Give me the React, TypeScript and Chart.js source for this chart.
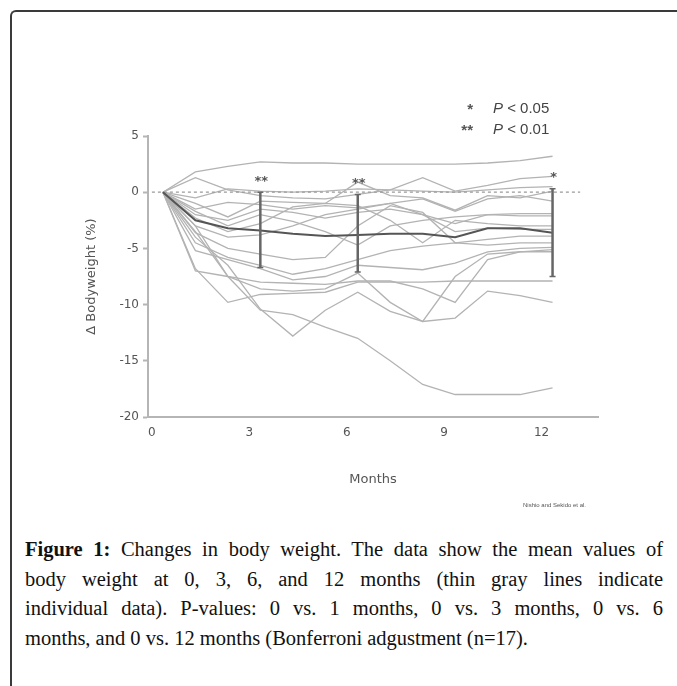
import React, { useEffect, useRef } from "react";
import { Chart, registerables } from "chart.js";
Chart.register(...registerables);

// ---- data ----
const months = [0, 1, 2, 3, 4, 5, 6, 7, 8, 9, 10, 11, 12];
const xTickValues = [0, 3, 6, 9, 12];
const yTickValues = [5, 0, -5, -10, -15, -20];

const subject01 = [0, 1.8, 2.3, 2.7, 2.6, 2.6, 2.5, 2.5, 2.5, 2.5, 2.6, 2.8, 3.2];
const subject02 = [0, 1.3, 0.2, -0.3, -0.5, -0.6, -0.2, 0.2, 1.3, 0.1, 0.6, 1.2, 1.4];
const subject03 = [0, -0.5, 0.3, 0.1, 0.0, 0.1, 0.3, 0.2, 0.1, 0.0, 0.2, 0.4, 0.5];
const subject04 = [0, -1.0, -2.2, -0.8, -0.9, -1.0, 0.9, -0.3, -0.5, -1.6, -0.3, -0.5, 0.1];
const subject05 = [0, -1.5, -0.9, -1.1, -1.5, -1.2, -1.4, -1.0, -0.6, -1.7, -0.6, -0.3, -0.8];
const subject06 = [0, -2.0, -2.5, -1.5, -1.8, -2.3, -1.8, -1.5, -2.0, -2.8, -2.0, -1.9, -1.9];
const subject07 = [0, -1.7, -3.0, -2.0, -2.6, -3.5, -4.7, -3.0, -2.5, -2.2, -2.0, -2.1, -2.1];
const subject08 = [0, -2.3, -3.5, -2.8, -1.3, -1.0, -1.2, -2.5, -4.5, -2.5, -2.8, -3.0, -3.0];
const subject09 = [0, -3.0, -4.0, -3.8, -3.0, -2.0, -1.5, -1.0, -2.0, -3.5, -3.2, -3.3, -3.3];
const subject10 = [0, -3.6, -5.0, -5.5, -6.0, -5.8, -3.0, -1.2, -1.8, -4.5, -4.2, -3.9, -3.9];
const subject11 = [0, -4.5, -5.8, -6.5, -7.3, -6.8, -6.0, -5.2, -4.8, -4.5, -4.7, -4.5, -4.5];
const subject12 = [0, -5.2, -6.0, -6.8, -7.8, -7.5, -6.5, -6.7, -6.9, -6.3, -5.3, -5.0, -4.9];
const subject13 = [0, -3.5, -7.5, -8.0, -8.1, -8.2, -7.9, -7.9, -8.6, -9.8, -6.0, -5.3, -5.1];
const subject14 = [0, -7.0, -7.5, -8.6, -8.8, -8.6, -7.2, -9.8, -11.5, -11.2, -8.8, -9.2, -9.8];
const subject15 = [0, -6.8, -9.8, -9.1, -9.0, -8.9, -8.0, -8.0, -8.0, -7.9, -7.9, -7.9, -7.9];
const subject16 = [0, -4.0, -6.5, -10.4, -12.8, -10.5, -8.9, -10.6, -11.5, -7.5, -5.5, -5.3, -5.3];
const subject17 = [0, -3.0, -7.5, -10.5, -10.9, -12.0, -13.0, -15.0, -17.1, -18.0, -18.0, -18.0, -17.4];
const subjects = [
  subject01, subject02, subject03, subject04, subject05, subject06, subject07, subject08, subject09,
  subject10, subject11, subject12, subject13, subject14, subject15, subject16, subject17,
];

const meanChange = [0, -2.5, -3.2, -3.4, -3.7, -3.9, -3.8, -3.7, -3.7, -4.0, -3.2, -3.2, -3.6];

const errorMonths = [3, 6, 12];
const errorUpper = [0, -0.2, 0.3];
const errorLower = [-6.7, -7.1, -7.5];

const sigMonths = [3, 6, 12];
const sigMarks = ["**", "**", "*"];
const sigLevel = [1.15, 0.95, 1.5];

const refValue = 0;
const refStart = -0.34;
const refEnd = 12.85;

const captionLabel = "Figure 1:";
const captionLines = [
  " Changes in body weight. The data show the mean values of",
  "body weight at 0, 3, 6, and 12 months (thin gray lines indicate",
  "individual data). P-values: 0 vs. 1 months, 0 vs. 3 months, 0 vs. 6",
  "months, and 0 vs. 12 months (Bonferroni adgustment (n=17).",
];

const toPoints = (vals: number[]) => months.map((m, i) => ({ x: m, y: vals[i] }));

const annotationPlugin = {
  id: "annotations",
  afterDatasetsDraw(chart: any) {
    const { ctx, scales } = chart;
    const xs = scales.x;
    const ys = scales.y;
    ctx.save();
    ctx.strokeStyle = "#666";
    errorMonths.forEach((m, i) => {
      const px = xs.getPixelForValue(m);
      const top = ys.getPixelForValue(errorUpper[i]);
      const bot = ys.getPixelForValue(errorLower[i]);
      ctx.lineWidth = 2.5;
      ctx.beginPath();
      ctx.moveTo(px, top);
      ctx.lineTo(px, bot);
      ctx.stroke();
      ctx.lineWidth = 1.5;
      ctx.beginPath();
      ctx.moveTo(px - 3, top);
      ctx.lineTo(px + 3, top);
      ctx.moveTo(px - 3, bot);
      ctx.lineTo(px + 3, bot);
      ctx.stroke();
    });
    ctx.fillStyle = "#555";
    ctx.font = 'bold 13px "DejaVu Sans"';
    ctx.textAlign = "center";
    ctx.textBaseline = "middle";
    sigMonths.forEach((m, i) => {
      ctx.fillText(sigMarks[i], xs.getPixelForValue(m) + 1, ys.getPixelForValue(sigLevel[i]) + 2);
    });
    ctx.restore();
  },
};

function ChartView() {
  const ref = useRef<HTMLCanvasElement | null>(null);
  useEffect(() => {
    if (!ref.current) return;
    const datasets: any[] = [];
    datasets.push({
      label: "Mean",
      data: toPoints(meanChange),
      borderColor: "#555",
      borderWidth: 2,
      pointRadius: 0,
      tension: 0,
    });
    datasets.push({
      label: "Reference",
      data: [
        { x: refStart, y: refValue },
        { x: refEnd, y: refValue },
      ],
      borderColor: "#9a9a9a",
      borderWidth: 1.3,
      borderDash: [3, 3],
      pointRadius: 0,
    });
    subjects.forEach((s, i) => {
      datasets.push({
        label: "Subject " + (i + 1),
        data: toPoints(s),
        borderColor: "#b3b3b3",
        borderWidth: 1.3,
        pointRadius: 0,
        tension: 0,
      });
    });
    const chart = new Chart(ref.current, {
      type: "line",
      data: { datasets },
      plugins: [annotationPlugin],
      options: {
        animation: false,
        responsive: false,
        events: [],
        layout: { padding: { top: 136, right: 79, left: 0, bottom: 0 } },
        plugins: { legend: { display: false }, tooltip: { enabled: false } },
        scales: {
          x: {
            type: "linear",
            min: -0.46,
            max: 13.4,
            afterFit: (s: any) => {
              s.height = 103;
            },
            afterBuildTicks: (s: any) => {
              s.ticks = xTickValues.map((v) => ({ value: v }));
            },
            grid: { display: false, drawTicks: false },
            border: { color: "#b5b5b5", width: 2 },
            ticks: {
              padding: 9,
              labelOffset: -11,
              color: "#555",
              font: { family: "DejaVu Sans", size: 12 },
              callback: (v: any) => String(v),
            },
            title: {
              display: true,
              text: "Months",
              color: "#555",
              font: { family: "DejaVu Sans", size: 13 },
              padding: { top: 0, bottom: 33 },
            },
          },
          y: {
            type: "linear",
            min: -20,
            max: 5,
            afterFit: (s: any) => {
              s.width = 148;
            },
            afterBuildTicks: (s: any) => {
              s.ticks = yTickValues.map((v) => ({ value: v }));
            },
            grid: {
              drawOnChartArea: false,
              drawTicks: true,
              tickLength: 5,
              tickColor: "#b5b5b5",
              tickWidth: 2,
            },
            border: { color: "#b5b5b5", width: 2 },
            ticks: {
              padding: 4,
              color: "#555",
              font: { family: "DejaVu Sans", size: 12 },
              callback: (v: any) => String(v),
            },
            title: {
              display: true,
              text: "Δ Bodyweight (%)",
              color: "#555",
              font: { family: "DejaVu Sans", size: 13 },
              padding: { top: 84, bottom: 0 },
            },
          },
        },
      },
    });
    return () => chart.destroy();
  }, []);
  return (
    <canvas
      ref={ref}
      width={677}
      height={520}
      style={{ position: "absolute", left: 0, top: 0, width: 677, height: 520 }}
    />
  );
}

export default function App() {
  const sans = '"Liberation Sans", Arial, sans-serif';
  const serif = '"Liberation Serif", serif';
  return (
    <div
      style={{
        position: "absolute",
        left: 0,
        top: 0,
        width: 677,
        height: 686,
        overflow: "hidden",
        background: "#fff",
      }}
    >
      <div
        style={{
          position: "absolute",
          left: 10,
          top: 10,
          width: 700,
          height: 700,
          borderTop: "2px solid #3a3a3a",
          borderLeft: "2px solid #3a3a3a",
          borderTopLeftRadius: 6,
        }}
      />
      <ChartView />
      <div style={{ position: "absolute", left: 440, top: 100, width: 33, textAlign: "right", font: "bold 15px " + sans, color: "#555" }}>*</div>
      <div style={{ position: "absolute", left: 493, top: 99, font: "15px " + sans, color: "#444", whiteSpace: "nowrap" }}>
        <i>P</i> &lt; 0.05
      </div>
      <div style={{ position: "absolute", left: 440, top: 121, width: 33, textAlign: "right", font: "bold 15px " + sans, color: "#555" }}>**</div>
      <div style={{ position: "absolute", left: 493, top: 120, font: "15px " + sans, color: "#444", whiteSpace: "nowrap" }}>
        <i>P</i> &lt; 0.01
      </div>
      <div style={{ position: "absolute", left: 523, top: 502, font: "6px " + sans, color: "#555", whiteSpace: "nowrap" }}>
        Nishio and Sekido et al.
      </div>
      <div
        style={{
          position: "absolute",
          left: 25,
          top: 535,
          width: 638,
          font: "20.5px " + serif,
          lineHeight: "29.5px",
          color: "#111",
        }}
      >
        {captionLines.map((line, i) => (
          <div
            key={i}
            style={{
              textAlign: "justify",
              textAlignLast: i < captionLines.length - 1 ? "justify" : "left",
              whiteSpace: "nowrap",
            }}
          >
            {i === 0 ? <b>{captionLabel}</b> : null}
            {line}
          </div>
        ))}
      </div>
    </div>
  );
}
